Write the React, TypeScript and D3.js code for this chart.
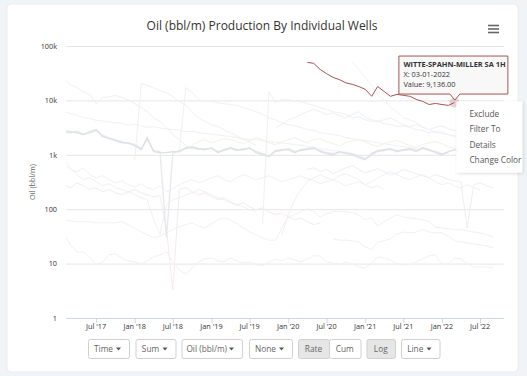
import React from "react";
import * as d3 from "d3";

// ---------- DATA ----------
// month index 0 = Feb 2017
const firstMonth = new Date(2017, 1, 1);
const yTickValues = [1, 10, 100, 1000, 10000, 100000];
const yTickLabels = ["1", "10", "100", "1k", "10k", "100k"];
const buttonLabels = ["Time", "Sum", "Oil (bbl/m)", "None", "Rate", "Cum", "Log", "Line"];
const menuItems = ["Exclude", "Filter To", "Details", "Change Color"];

const highlightName = "WITTE-SPAHN-MILLER SA 1H";
const highlightStart = 38; // Apr 2020
const highlightValues = [50000, 48000, 37000, 31000, 26500, 24000, 21000, 19700, 18000, 16000, 11900, 18000, 14600, 11900, 12900, 12400, 11900, 10400, 9600, 8400, 8800, 8400, 8100, 9136];

const wellA = [2780, 2660, 2550, 2345, 2660, 2900, 2155, 1980, 1820, 1670, 1670, 1470, 1240, 2065, 1140, 1095, 1095, 1140, 1140, 1350, 1410, 1295, 1240, 1350, 1095, 1240, 1350, 1240, 1240, 1350, 1095, 1005, 923, 1190, 1240, 1240, 1095, 1240, 1295, 1350, 1140, 1050, 1005, 1140, 1050, 1005, 885, 813, 1050, 1190, 1240, 1295, 1140, 1240, 1295, 1190, 1350, 1240, 1095, 1005, 1140, 1240, 1095, 1005, 1050, 964];
const wellB = [2600, 2500, 2700, 2400, 2500, 2750, 2300, 2050, 1900, 1750, 1600, 1550, 1300, 1900, 1200, 1150, 30, 1050, 1200, 1300, 1350, 1250, 1300, 1300, 1150, 1200, 1300, 1200, 1300, 1300, 1150, 1050, 950, 1150, 1200, 1300, 1150, 1200, 1250, 1300, 1200, 1100, 1050, 1100, 1100, 1050, 950, 850, 1000, 1150, 1200, 1250, 1200, 1200, 1250, 1150, 1300, 1200, 1150, 1050, 1100];
const wellC = [24200, 19500, 17200, 14500, 12800, 8700, 11300, 11700, 12300, 11300, 10300, 8700, 7400, 6200, 4800, 4100, 3200, 2350, 1900, 1470, 1240];
const wellD = [813, 20400, 18700, 17200, 15100, 13900, 11700, 9500, 8100, 6200, 4800, 4100, 3600, 3300, 2900, 2550, 2250, 1900, 1740, 1470];
const wellE = [52, 14500, 9100, 10300, 10300, 9900, 9500, 8700, 8100, 7400, 6800, 6200, 5900, 5500, 4800, 5000, 4400, 4100, 4200, 3700, 3600, 3300, 3400, 3200, 2900, 2800, 2550, 2660, 2450, 2350, 2250, 2070, 2150, 1900, 1820];
const wellF = [1240, 17200, 13900, 10300, 9500, 9500, 9100, 8700, 8400, 8100, 7400, 6800, 6200, 5500, 4800, 4400, 3900, 3600, 3400, 3200, 2900, 2800, 2550, 2450, 2350, 2250, 2070, 1980, 1900, 1820, 1740, 1670, 1600, 1530, 1470, 1410, 1350, 1300];
const wellG = [813, 578, 430, 350, 378, 320, 270, 294, 248, 230, 209, 184, 162, 150, 64, 34, 120, 150, 162, 184, 200, 230, 209, 184, 162, 150, 131, 120, 111, 98, 90];
const wellH = [281, 248, 306, 270, 230, 248, 209, 230, 200, 184, 209, 230, 200, 184, 169, 177, 42, 3.3, 230, 248, 209, 184, 200, 169, 150, 162, 137, 120, 131, 111, 98, 106, 90, 79, 86, 72, 64, 69, 59, 52, 56];
const wellI = [34, 22, 16.4, 16.4, 13.3, 9.5, 10.7, 14.5, 15.1, 12.7, 11.2, 10.7, 9.9, 11.2, 13.3, 14.5, 16.4, 10.7, 7.6, 6.5, 8.3, 10.7, 12.2, 12.7, 11.2, 10.7, 12.7, 11.2, 10.3, 10.7, 9.5, 9.1, 10.7, 12.2, 11.2, 12.7, 11.7, 10.7, 12.2, 13.9, 13.9, 10.7, 10.3, 9.5, 10.7, 9.9, 8.7, 8.3, 10.3, 13.3, 12.7, 11.7, 9.9, 9.5, 9.5, 10.7, 12.2, 13.9, 14.5, 9.5, 9.9, 12.7, 12.2, 9.9, 8.7, 8.7, 8.7, 8.3];
const wellJ = [28.5, 27, 27, 26.2, 25, 20.3, 18, 25, 26.2, 28.5, 35, 38, 36.7, 38, 42, 38, 36.7, 36.7, 32, 26.2, 25, 24, 23, 22, 21.2, 19.5];
const wellK = [64, 61, 59, 59, 59, 56, 56, 56, 56, 59, 52, 45, 38, 34, 29.7, 32, 36.7, 42, 47, 52, 56, 49, 45, 54, 64, 69, 64, 54, 45, 38, 34, 29.7, 27, 27, 45, 72, 79, 90, 102, 90, 72, 82, 90, 90, 90, 86, 79, 64, 69, 49, 59, 69, 79, 72, 69, 67, 64, 59, 47, 45, 44, 42, 42, 40, 38, 36.7, 34, 31];
const wellL = [657, 540, 488, 578, 430, 378, 412, 350, 306, 334, 281, 259, 294, 248, 230, 270, 209, 238, 281, 320, 350, 306, 334, 378, 412, 350, 320, 378, 430, 395, 350, 378, 412, 363, 320, 350, 378, 412, 363, 334, 294, 320, 350, 306, 270, 294, 320, 281, 248, 270, 230];
const wellM = [3200, 3600, 4400, 4800, 5500, 6200, 6800, 6200, 5500, 5900, 5250, 4800, 5500, 6200, 4800, 4400, 4100, 4400, 4800, 4100, 3600, 3300, 3600, 3200, 2900, 3200, 3400, 3000, 2800, 2550, 2900, 2660, 2450];
const wellN = [34, 79, 150, 230, 320, 378, 430, 378, 350, 412, 449, 395, 350, 281, 320, 378, 430, 488, 430, 378, 350, 395, 430, 378, 320, 281, 306, 270, 248, 281, 248, 230];
const wellO = [540, 578, 488, 540, 449, 510, 578, 630, 540, 468, 510, 555, 488, 430, 468, 540, 488, 449, 412, 378, 430, 395, 350, 334, 320, 45, 281, 306, 270, 248];
const wellP = [51900, 36900, 26300, 18700, 12800, 10300, 7400, 6200, 4800, 4400, 3900, 3300, 2900, 2550, 2660, 2350, 2150, 1980, 1900, 1740, 1670];
const wellQ = [6200, 5700, 5400, 4800, 4700, 4300, 4200, 4000, 3900, 3800, 3500, 3600, 3400, 3200, 3300, 3100, 3000, 2900, 2850, 2660, 2700, 2550, 2450, 2400, 2300, 2250, 2150, 2100, 1980, 1900, 1950, 1820, 1740, 1700, 1650, 1600, 1530, 1500, 1410, 1380, 1300, 1260, 1190, 1160, 1100, 1050];
const wellR = [1530, 1740, 1900, 1670, 1820, 1980, 1900, 1740, 1600, 1820, 2070, 1900, 1670, 1530, 1740, 1900, 2070, 1820, 1670, 1900, 1980, 1740, 1600, 1470, 1670, 1820, 1900, 1740, 1530, 1410, 1600, 1740, 1820, 1670, 1470, 1350, 1530, 1670, 1740, 1600, 1410, 1300, 1470, 1530, 1350, 1240, 1300, 1140];

const faintSeries = [
  { start: 0, values: wellQ, color: "#f0f1f4" },
  { start: 20, values: wellR, color: "#f5f2e3" },
  { start: 0, values: wellC, color: "#eef0f3" },
  { start: 11, values: wellD, color: "#eef0f4" },
  { start: 31, values: wellE, color: "#eef0f4" },
  { start: 18, values: wellF, color: "#f0f1f4" },
  { start: 0, values: wellG, color: "#f0f1f4" },
  { start: 0, values: wellH, color: "#f4ecec" },
  { start: 0, values: wellI, color: "#f1f1f3" },
  { start: 42, values: wellJ, color: "#f0f1f3" },
  { start: 0, values: wellK, color: "#f1f1f3" },
  { start: 0, values: wellL, color: "#f0f1f4" },
  { start: 33, values: wellM, color: "#eef0f4" },
  { start: 34, values: wellN, color: "#f0f1f4" },
  { start: 38, values: wellO, color: "#edeff3" },
  { start: 45, values: wellP, color: "#f1f2f5" },
  { start: 0, values: wellB, color: "#e8eaef" },
  { start: 0, values: wellA, color: "#dfe1e8" },
];

// ---------- LAYOUT ----------
const W = 527;
const H = 376;
const plot = { left: 66, right: 504, top: 46, bottom: 318 };

const x = d3
  .scaleTime()
  .domain([new Date(2017, 1, 8), new Date(2022, 9, 23)])
  .range([plot.left, plot.right]);
const y = d3.scaleLog().domain([1, 100000]).range([plot.bottom, plot.top]);

const monthDate = (m: number) => d3.timeMonth.offset(firstMonth, m);
const line = d3
  .line<{ m: number; v: number }>()
  .x((d) => x(monthDate(d.m)))
  .y((d) => y(d.v));
const toPts = (start: number, values: number[]) => values.map((v, i) => ({ m: start + i, v }));

const xTicks = d3.timeMonth.every(6)!.range(new Date(2017, 5, 1), new Date(2022, 8, 1));
const fmt = d3.timeFormat("%b '%y");

const FONT = "'Open Sans', 'Noto Sans', sans-serif";

function Button({ x0, w, label, caret, active }: { x0: number; w: number; label: string; caret?: boolean; active?: boolean }) {
  const yb = 339;
  const h = 19;
  const tw = caret ? w - 8 : w;
  return (
    <g>
      <rect x={x0 + 0.5} y={yb + 0.5} width={w} height={h} rx={2} fill={active ? "#e6e6e6" : "#fff"} stroke="#d0d0d0" />
      <text x={x0 + tw / 2 + (caret ? -1 : 0)} y={yb + 12.8} fontSize={8.3} fill="#666" textAnchor="middle" fontFamily={FONT}>
        {label}
      </text>
      {caret && <path d={`M${x0 + w - 13},${yb + 8.5} l5,0 l-2.5,3 z`} fill="#555" />}
    </g>
  );
}

export default function App() {
  const hoverIdx = highlightValues.length - 1;
  const hx = x(monthDate(highlightStart + hoverIdx));
  const hy = y(highlightValues[hoverIdx]);
  const hoverDate = monthDate(highlightStart + hoverIdx);

  const tipX = hx - 56;
  const tipY = hy - 47;
  const tipW = 109;
  const tipH = 38;

  const menuX = hx + 2;
  const menuY = hy - 1;

  return (
    <div style={{ position: "fixed", left: 0, top: 0, width: W, height: H }}>
      <svg width={W} height={H} style={{ display: "block" }} fontFamily={FONT}>
        <defs>
          <clipPath id="plotClip">
            <rect x={plot.left} y={plot.top - 5} width={plot.right - plot.left} height={plot.bottom - plot.top + 5} />
          </clipPath>
          <filter id="menuShadow" x="-20%" y="-20%" width="140%" height="140%">
            <feDropShadow dx="1" dy="1" stdDeviation="1.5" floodColor="#000" floodOpacity="0.15" />
          </filter>
        </defs>
        <rect x={0} y={0} width={W} height={H} fill="#f1f4f7" />
        <rect x={7} y={4} width={511} height={368} rx={4} fill="#fff" stroke="#e9edf1" />

        {/* title */}
        <text x={262} y={30} textAnchor="middle" fontSize={12} fill="#333">
          Oil (bbl/m) Production By Individual Wells
        </text>
        {/* hamburger */}
        <g stroke="#666" strokeWidth={1.6}>
          <line x1={488} x2={499} y1={25.5} y2={25.5} />
          <line x1={488} x2={499} y1={29} y2={29} />
          <line x1={488} x2={499} y1={32.5} y2={32.5} />
        </g>

        {/* gridlines */}
        {yTickValues.map((v, i) => (
          <g key={v}>
            {i > 0 && <line x1={plot.left} x2={plot.right} y1={y(v) + 0.5} y2={y(v) + 0.5} stroke="#e6e6e6" />}
            <text x={57} y={y(v) + 2.8} fontSize={7.3} fill="#333" textAnchor="end">
              {yTickLabels[i]}
            </text>
          </g>
        ))}
        <text transform={`translate(35,${(plot.top + plot.bottom) / 2}) rotate(-90)`} textAnchor="middle" fontSize={7.3} fill="#666">
          Oil (bbl/m)
        </text>

        {/* faint wells */}
        <g clipPath="url(#plotClip)" fill="none">
          {faintSeries.map((s, i) => (
            <path key={i} d={line(toPts(s.start, s.values)) || ""} stroke={s.color} strokeWidth={i >= faintSeries.length - 2 ? 1.4 : 1} />
          ))}
          <path d={line(toPts(highlightStart, highlightValues)) || ""} stroke="#a65553" strokeWidth={1} fill="none" />
        </g>

        {/* x axis */}
        <line x1={plot.left} x2={plot.right} y1={plot.bottom + 0.5} y2={plot.bottom + 0.5} stroke="#ccd6eb" />
        {xTicks.map((t) => (
          <g key={t.getTime()}>
            <line x1={x(t) + 0.5} x2={x(t) + 0.5} y1={plot.bottom} y2={plot.bottom + 5} stroke="#ccd6eb" />
            <text x={x(t)} y={plot.bottom + 11} fontSize={7.3} fill="#333" textAnchor="middle">
              {fmt(t)}
            </text>
          </g>
        ))}

        {/* hover halo */}
        <circle cx={hx} cy={hy} r={5} fill="#a65553" opacity={0.25} />

        {/* tooltip */}
        <path
          d={`M${tipX + 0.5},${tipY + 0.5} h${tipW} v${tipH} h${-(tipX + tipW - hx) + 5} l-5,6 l-5,-6 H${tipX + 0.5} z`}
          fill="#f7f7f7"
          fillOpacity={0.92}
          stroke="#a65553"
        />
        <text x={tipX + 5} y={tipY + 11.5} fontSize={7.4} fontWeight="bold" fill="#333">
          {highlightName}
        </text>
        <text x={tipX + 5} y={tipY + 21.7} fontSize={7.4} fill="#333">
          X: {d3.timeFormat("%m-%d-%Y")(hoverDate)}
        </text>
        <text x={tipX + 5} y={tipY + 31.9} fontSize={7.4} fill="#333">
          Value: {d3.format(",.2f")(highlightValues[hoverIdx])}
        </text>

        {/* context menu */}
        <rect x={menuX} y={menuY} width={66} height={71} fill="#fff" filter="url(#menuShadow)" />
        {menuItems.map((m, i) => (
          <text key={m} x={menuX + 13} y={menuY + 15 + i * 15.5} fontSize={8.3} fill="#555">
            {m}
          </text>
        ))}

        {/* buttons */}
        <Button x0={88} w={41} label={buttonLabels[0]} caret />
        <Button x0={135.5} w={40} label={buttonLabels[1]} caret />
        <Button x0={181.5} w={60.5} label={buttonLabels[2]} caret />
        <Button x0={249} w={43} label={buttonLabels[3]} caret />
        <Button x0={298} w={31} label={buttonLabels[4]} active />
        <Button x0={329} w={31.5} label={buttonLabels[5]} />
        <Button x0={366.5} w={28.5} label={buttonLabels[6]} active />
        <Button x0={401} w={38.5} label={buttonLabels[7]} caret />
      </svg>
    </div>
  );
}
